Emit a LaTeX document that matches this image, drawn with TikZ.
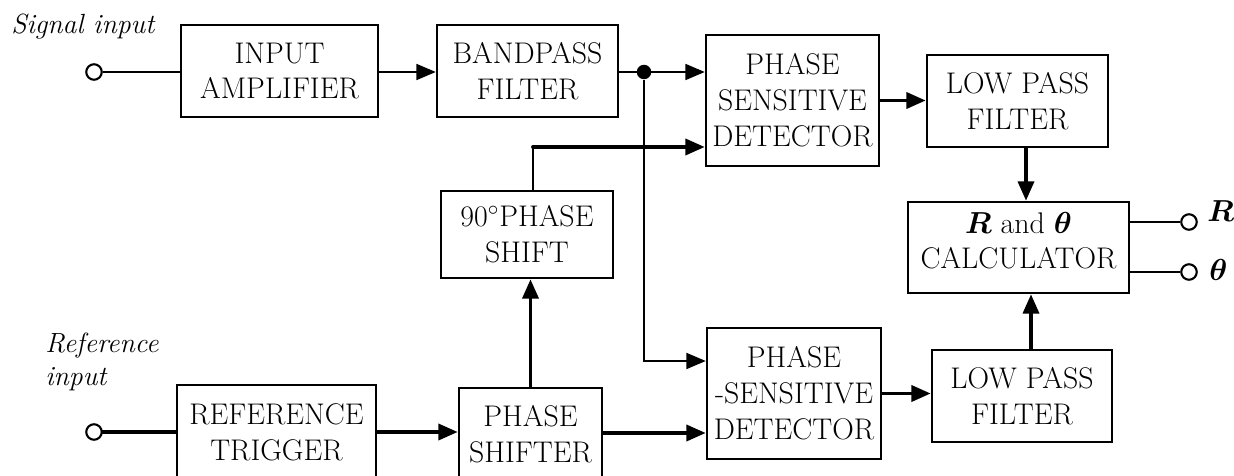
\documentclass[tikz,border=0pt]{standalone}
\usepackage{bm}
\usetikzlibrary{arrows.meta}
\newcommand\blkfont{\fontsize{17}{20.4}\selectfont}
\newcommand\lblfont{\fontsize{15.8}{20}\selectfont\itshape}
\tikzset{
  blk/.style={draw, line width=1.4pt, inner sep=0pt, align=center, font=\blkfont},
  lbl/.style={inner sep=0pt, font=\lblfont},
  port/.style={circle, draw, line width=1.2pt, fill=white, inner sep=0pt,
    minimum size=0.31cm},
  junc/.style={circle, fill, inner sep=0pt, minimum size=0.29cm},
  thinln/.style={line width=1.2pt},
  thickln/.style={line width=2.2pt, line cap=round},
  head/.style={-{Triangle[length=11pt,width=9pt]}},
}
\begin{document}
\begin{tikzpicture}[x=0.02cm, y=-0.02cm]
\useasboundingbox (0,0) rectangle (1234,476);
\clip (0,0) rectangle (1234,476);

% blocks (sizes: 1 unit = 0.02cm)
\node[blk, minimum width=3.94cm, minimum height=1.84cm] (amp)  at (279.5,71)   {INPUT\\AMPLIFIER};
\node[blk, minimum width=3.62cm, minimum height=1.84cm] (bpf)  at (527.5,71)   {BANDPASS\\FILTER};
\node[blk, minimum width=3.46cm, minimum height=2.62cm] (psd1) at (792.5,100.5) {PHASE\\SENSITIVE\\DETECTOR};
\node[blk, minimum width=3.62cm, minimum height=1.84cm] (lpf1) at (1017.5,101) {LOW PASS\\FILTER};
\node[blk, minimum width=4.42cm, minimum height=1.82cm] (calc) at (1018.5,247.5) {$\bm{R}$ and $\bm{\theta}$\\CALCULATOR\rule[-8pt]{0pt}{8pt}};
\node[blk, minimum width=3.44cm, minimum height=1.74cm] (ps90) at (527,234.5)  {90$^{\circ}$PHASE\\SHIFT};
\node[blk, minimum width=3.48cm, minimum height=2.62cm] (psd2) at (794,393.5)  {PHASE\\-SENSITIVE\\DETECTOR};
\node[blk, minimum width=3.60cm, minimum height=1.84cm] (lpf2) at (1022,396)   {LOW PASS\\FILTER};
\node[blk, minimum width=3.98cm, minimum height=1.90cm] (trig) at (276.5,432.5) {REFERENCE\\TRIGGER};
\node[blk, minimum width=2.86cm, minimum height=1.84cm] (shf)  at (530.5,434)  {PHASE\\SHIFTER};

% labels
\node[lbl, anchor=base west] (sigl) at (11,34) {Signal input};
\node[lbl, anchor=base west] (refl) at (45,352) {Reference};
\node[lbl, anchor=base west] (refm) at (45,385) {input};

% ports and junction
\node[port] (sin) at (94,72) {};
\node[port] (rin) at (94,432) {};
\node[port] (oR)  at (1189,222) {};
\node[port] (oT)  at (1189,272) {};
\node[junc] (jn)  at (644,72) {};
\node[anchor=base west, inner sep=0pt, font=\blkfont] (oRl) at (1207,222) {$\bm{R}$};
\node[anchor=base west, inner sep=0pt, font=\blkfont] (oTl) at (1209,280) {$\bm{\theta}$};

% routing points
\coordinate (c90) at (533,147);
\coordinate (b2)  at (707,361);
\coordinate (s2)  at (0,433);
\coordinate (v1)  at (1026,0);
\coordinate (v2)  at (1031,0);

% signal path
\draw[thinln] (sin) -- (amp.west |- sin);
\draw[thinln, head] (amp.east |- sin) -- (bpf.west |- sin);
\draw[thinln, head] (bpf.east |- sin) -- (psd1.west |- sin);
\draw[thinln, head] (jn) -- (jn |- b2) -- (psd2.west |- b2);

% reference path
\draw[thickln] (rin) -- (trig.west |- rin);
\draw[thickln, head] (trig.east |- rin) -- (shf.west |- rin);
\draw[thickln, head] (shf.east |- s2) -- (psd2.west |- s2);
\draw[thickln, head] (shf.north) -- (ps90.south -| shf.north);
\draw[thinln] (ps90.north -| c90) -- (c90);
\draw[thickln, head] (c90) -- (psd1.west |- c90);

% detector outputs
\draw[thickln, head] (psd1.east) -- (lpf1.west |- psd1.east);
\draw[thickln, head] (psd2.east) -- (lpf2.west |- psd2.east);
\draw[thickln, head] (lpf1.south -| v1) -- (calc.north -| v1);
\draw[thickln, head] (lpf2.north -| v2) -- (calc.south -| v2);

% outputs
\draw[thinln] (calc.east |- oR) -- (oR);
\draw[thinln] (calc.east |- oT) -- (oT);
\end{tikzpicture}
\end{document}
